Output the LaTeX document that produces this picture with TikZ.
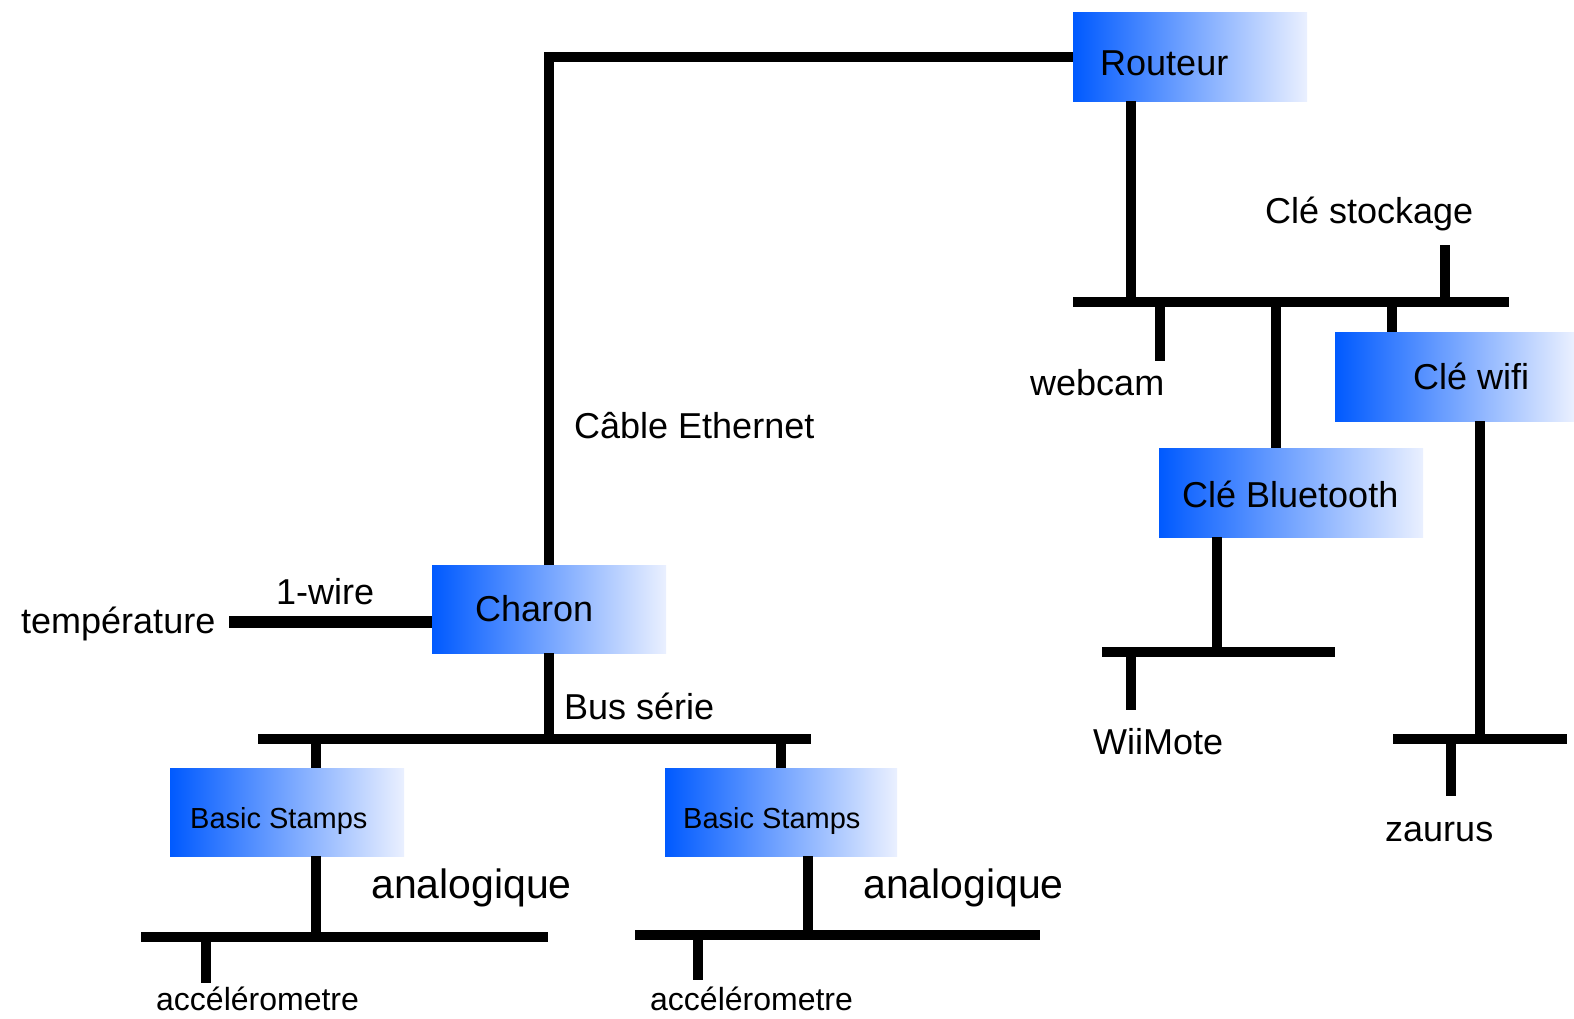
\documentclass[tikz,border=0pt]{standalone}
\usepackage{fontspec}
\setmainfont{Liberation Sans}
\definecolor{bdark}{RGB}{0,90,255}
\definecolor{blight}{RGB}{234,240,255}
\begin{document}
\begin{tikzpicture}[x=1pt,y=-1pt,
  box/.style={anchor=north west, inner sep=0pt, draw=none, left color=bdark, right color=blight},
  wire/.style={line width=10pt, line cap=butt, black},
  lbl/.style={anchor=base west, inner sep=0pt, font=\fontsize{36}{40}\selectfont},
  lblbig/.style={lbl, font=\fontsize{41}{45}\selectfont},
  lblsm/.style={lbl, font=\fontsize{29}{33}\selectfont},
  lblacc/.style={lbl, font=\fontsize{32}{36}\selectfont}]
\useasboundingbox (0,0) rectangle (1574,1019);
% boxes
\node[box, minimum width=234pt, minimum height=89pt] (routeur) at (1073,12) {};
\node[box, minimum width=239pt, minimum height=89pt] (wifi) at (1335,332) {};
\node[box, minimum width=264pt, minimum height=89pt] (bt) at (1159,448) {};
\node[box, minimum width=234pt, minimum height=88pt] (charon) at (432,565) {};
\node[box, minimum width=234pt, minimum height=88pt] (stamp1) at (170,768) {};
\node[box, minimum width=232pt, minimum height=88pt] (stamp2) at (665,768) {};
% box texts
\node[lbl] (troutr) at (1100,76) {Routeur};
\node[lbl] (twifi) at (1413,389) {Clé wifi};
\node[lbl] (tbt) at (1182,507) {Clé Bluetooth};
\node[lbl] (tcharon) at (475,621) {Charon};
\node[lblsm] (tst1) at (190,828) {Basic Stamps};
\node[lblsm] (tst2) at (683,828) {Basic Stamps};
% labels
\node[lbl] (eth) at (574,438) {Câble Ethernet};
\node[lbl] (onew) at (276,604) {1-wire};
\node[lbl] (temp) at (21,633) {température};
\node[lbl] (bus) at (564,719) {Bus série};
\node[lblbig] (ana1) at (371,898) {analogique};
\node[lblbig] (ana2) at (863,898) {analogique};
\node[lblacc] (acc1) at (156,1010) {accélérometre};
\node[lblacc] (acc2) at (650,1010) {accélérometre};
\node[lbl] (stock) at (1265,223) {Clé stockage};
\node[lbl] (webcam) at (1030,395) {webcam};
\node[lbl] (wii) at (1093,754) {WiiMote};
\node[lbl] (zaurus) at (1385,841) {zaurus};
% coordinates
\coordinate (tw) at (229,622);
\coordinate (busL) at (258,739);
\coordinate (busR) at (811,739);
\coordinate (b1L) at (141,937);
\coordinate (b1R) at (548,937);
\coordinate (b2L) at (635,935);
\coordinate (b2R) at (1040,935);
\coordinate (rbL) at (1073,302);
\coordinate (rbR) at (1509,302);
\coordinate (wbL) at (1102,652);
\coordinate (wbR) at (1335,652);
\coordinate (zbL) at (1393,739);
\coordinate (zbR) at (1567,739);
\coordinate (stockend) at (1445,245);
\coordinate (webend) at (1160,361);
\coordinate (acc1end) at (206,983);
\coordinate (acc2end) at (698,980);
\coordinate (wiiend) at (1131,710);
\coordinate (zauend) at (1451,796);
% wires
\draw[wire] (charon.north) |- (routeur.west);
\draw[wire, line width=12pt] (tw) -- (tw -| charon.west);
\draw[wire] (charon.south) -- (charon.south |- busL);
\draw[wire] (busL) -- (busR);
\draw[wire] (316,739) -- (316,0 |- stamp1.north);
\draw[wire] (781,739) -- (781,0 |- stamp2.north);
\draw[wire] (316,0 |- stamp1.south) -- (316,0 |- b1L);
\draw[wire] (b1L) -- (b1R);
\draw[wire] (acc1end |- b1L) -- (acc1end);
\draw[wire] (808,0 |- stamp2.south) -- (808,0 |- b2L);
\draw[wire] (b2L) -- (b2R);
\draw[wire] (acc2end |- b2L) -- (acc2end);
\draw[wire] (1131,0 |- routeur.south) -- (1131,0 |- rbL);
\draw[wire] (rbL) -- (rbR);
\draw[wire] (stockend) -- (stockend |- rbL);
\draw[wire] (webend |- rbL) -- (webend);
\draw[wire] (1276,0 |- rbL) -- (1276,0 |- bt.north);
\draw[wire] (1392,0 |- rbL) -- (1392,0 |- wifi.north);
\draw[wire] (1480,0 |- wifi.south) -- (1480,0 |- zbL);
\draw[wire] (zbL) -- (zbR);
\draw[wire] (zauend |- zbL) -- (zauend);
\draw[wire] (1217,0 |- bt.south) -- (1217,0 |- wbL);
\draw[wire] (wbL) -- (wbR);
\draw[wire] (wiiend |- wbL) -- (wiiend);
\end{tikzpicture}
\end{document}
